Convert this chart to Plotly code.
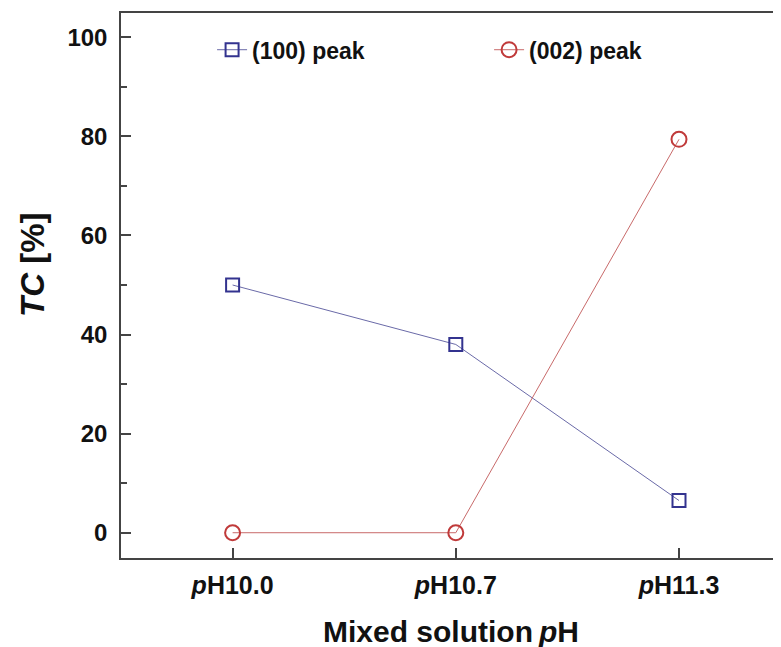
import plotly.graph_objects as go

categories = ["<i>p</i>H10.0", "<i>p</i>H10.7", "<i>p</i>H11.3"]
x_pos = [0, 1, 2]
tc_100 = [50.0, 38.0, 6.5]
tc_002 = [0.0, 0.0, 79.4]
y_ticks = [0, 20, 40, 60, 80, 100]

FONT = "Liberation Sans, Arial, sans-serif"
AX = "#444444"

fig = go.Figure()
fig.add_trace(go.Scatter(
    x=x_pos, y=tc_100, name="(100) peak", mode="lines+markers",
    line=dict(color="#6a6aa8", width=1),
    marker=dict(symbol="square-open", size=13, color="#33338f", line=dict(width=2)),
))
fig.add_trace(go.Scatter(
    x=x_pos, y=tc_002, name="(002) peak", mode="lines+markers",
    line=dict(color="#c86a6a", width=1),
    marker=dict(symbol="circle-open", size=15, color="#c03a3a", line=dict(width=2)),
))

fig.update_layout(
    width=773, height=639,
    margin=dict(l=113, r=0, t=5, b=89),
    paper_bgcolor="white", plot_bgcolor="white",
    font=dict(family=FONT, color="#111111"),
    showlegend=True,
    legend=dict(
        orientation="h", x=0.138, y=0.972, xanchor="left", yanchor="top",
        font=dict(size=23, family=FONT, weight="bold"),
        bgcolor="rgba(0,0,0,0)", entrywidth=232, itemwidth=30,
    ),
    xaxis=dict(
        range=[-0.5, 2.457], tickvals=x_pos, ticktext=categories,
        showgrid=False, zeroline=False,
        showline=True, linecolor=AX, linewidth=1.5, mirror=True,
        ticks="inside", ticklen=10, tickwidth=1.5, tickcolor=AX,
        ticklabelstandoff=4,
        tickfont=dict(size=25, family=FONT, weight="bold", color="#111111"),
    ),
    yaxis=dict(
        range=[-5.1, 104.9], tickvals=y_ticks,
        showgrid=False, zeroline=False,
        showline=True, linecolor=AX, linewidth=1.5,
        ticks="inside", ticklen=10, tickwidth=1.5, tickcolor=AX,
        minor=dict(ticks="inside", ticklen=6, tickwidth=1.5, tickcolor=AX, dtick=10, tick0=0),
        ticklabelstandoff=7,
        tickfont=dict(size=24, family=FONT, weight="bold", color="#111111"),
    ),
    annotations=[
        dict(text="Mixed solution\u2009<i>p</i>H", xref="paper", yref="paper",
             x=0.5, y=0, yshift=-73, xanchor="center", yanchor="middle",
             showarrow=False, font=dict(size=30, family=FONT, weight="bold", color="#111111")),
        dict(text="<i>TC</i> [%]", xref="paper", yref="paper", textangle=-90,
             x=0, xshift=-89, y=0.5376, xanchor="center", yanchor="middle",
             showarrow=False, font=dict(size=33, family=FONT, weight="bold", color="#111111")),
    ],
)

fig.write_html("out.html")
